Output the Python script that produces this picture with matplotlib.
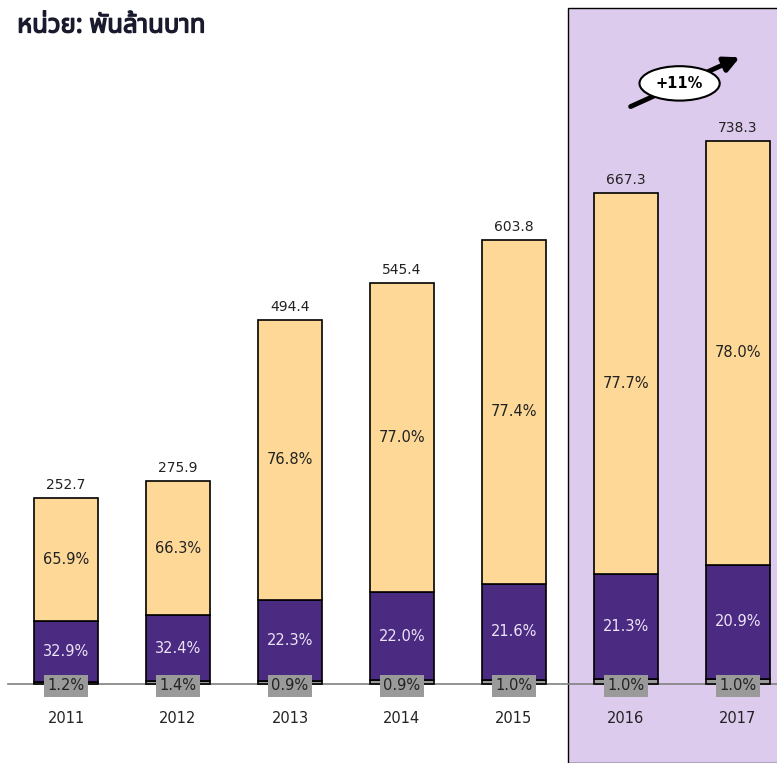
import numpy as np
import matplotlib
matplotlib.use('Agg')
import matplotlib.pyplot as plt
import matplotlib.patheffects as pe
from matplotlib import font_manager
from matplotlib.ft2font import FT2Font

# Data (billion baht)
years = ['2011', '2012', '2013', '2014', '2015', '2016', '2017']
totals = [252.7, 275.9, 494.4, 545.4, 603.8, 667.3, 738.3]
share_grey = [1.2, 1.4, 0.9, 0.9, 1.0, 1.0, 1.0]
share_purple = [32.9, 32.4, 22.3, 22.0, 21.6, 21.3, 20.9]
share_yellow = [65.9, 66.3, 76.8, 77.0, 77.4, 77.7, 78.0]
forecast_from = 5  # index of first shaded year
unit_label = 'หน่วย: พันล้านบาท'


def find_thai_font():
    # pick the first installed font that has Thai glyphs
    names = []
    for f in font_manager.fontManager.ttflist:
        try:
            cmap = FT2Font(f.fname).get_charmap()
        except Exception:
            continue
        if 0x0E2B in cmap and 0x0E48 in cmap:
            names.append(f.name)
    for pref in ['Noto Sans Thai', 'Tahoma', 'Noto Sans', 'DejaVu Sans']:
        if pref in names:
            return pref
    return names[0] if names else 'DejaVu Sans'


thai_font = find_thai_font()

yellow = '#fdd897'
purple = '#4b2a81'
grey = '#9a9a9a'
shade = '#dccbed'

fig = plt.figure(figsize=(7.77, 7.63), dpi=100)
ax = fig.add_axes([0, 0, 1, 1])

x = np.arange(len(years))
totals = np.array(totals)
g = totals * np.array(share_grey) / 100
p = totals * np.array(share_purple) / 100
yl = totals - g - p

# forecast shading
ax.axvspan(forecast_from - 0.52, 7.5, ymin=0, ymax=0.9895, facecolor=shade,
           edgecolor='black', linewidth=1.0, zorder=0)

# baseline
ax.axhline(0, color='#808080', linewidth=1.2, xmin=0.01, zorder=1)

w = 0.57
ax.bar(x, g, w, color=grey, edgecolor='black', linewidth=1.2, zorder=2)
ax.bar(x, p, w, bottom=g, color=purple, edgecolor='black', linewidth=1.2, zorder=2)
ax.bar(x, yl, w, bottom=g + p, color=yellow, edgecolor='black', linewidth=1.2, zorder=2)

for i in range(len(years)):
    ax.text(x[i], totals[i] + 8, f'{totals[i]:.1f}', ha='center', va='bottom',
            fontsize=10, color='#222222', zorder=4)
    ax.text(x[i], g[i] + p[i] + yl[i] / 2, f'{share_yellow[i]:.1f}%', ha='center',
            va='center', fontsize=10.5, color='#222222', zorder=4)
    ax.text(x[i], g[i] + p[i] / 2, f'{share_purple[i]:.1f}%', ha='center',
            va='center', fontsize=10.5, color='#ece4f7', zorder=4)
    ax.text(x[i], -2.5, f'{share_grey[i]:.1f}%', ha='center', va='center',
            fontsize=10.5, color='#222222', zorder=4,
            bbox=dict(boxstyle='square,pad=0.22', facecolor=grey, edgecolor='none'))
    ax.text(x[i], -47, years[i], ha='center', va='center', fontsize=10.5,
            color='#222222', zorder=4)

# growth arrow
growth = (totals[-1] / totals[-2] - 1) * 100
ax.annotate('', xy=(6.04, 853), xytext=(5.02, 783),
            arrowprops=dict(arrowstyle='-|>,head_length=0.9,head_width=0.45',
                            color='black', linewidth=3.5), zorder=5)
ax.text(5.48, 816, f'+{growth:.0f}%', ha='center', va='center', fontsize=10.5,
        fontweight='bold', color='black', zorder=6,
        bbox=dict(boxstyle='ellipse,pad=0.32', facecolor='white',
                  edgecolor='black', linewidth=1.5))

ax.text(0.022, 0.966, unit_label, transform=ax.transAxes, ha='left', va='center',
        fontsize=18.5, fontweight='bold', color='#1a1a2e', family=[thai_font, 'DejaVu Sans'],
        path_effects=[pe.withStroke(linewidth=1.0, foreground='#1a1a2e')])

ax.set_xlim(-0.59, 6.35)
ax.set_ylim(-107.3, 929.3)
ax.axis('off')

fig.savefig('out.png', dpi=100)
